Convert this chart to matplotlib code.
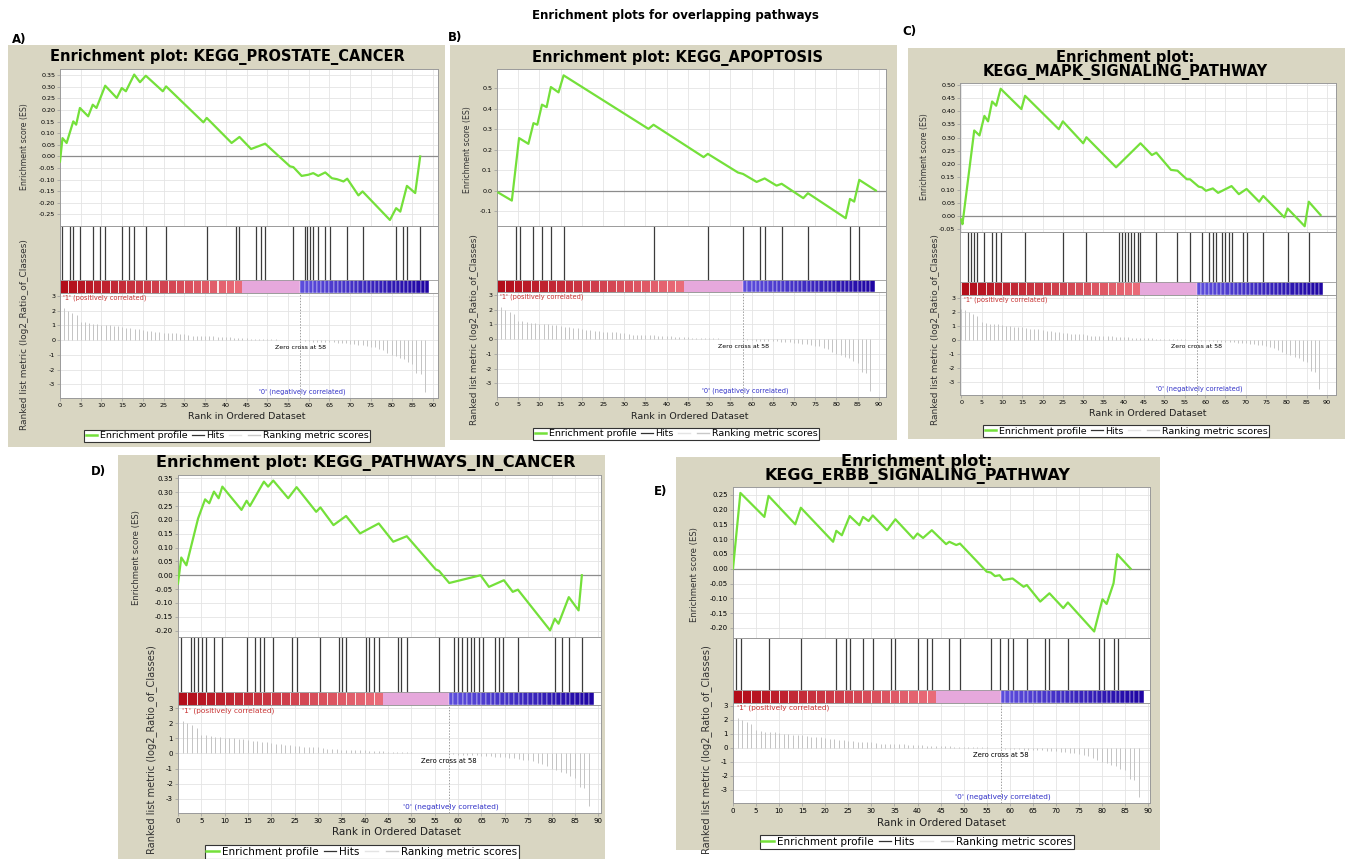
import matplotlib.pyplot as plt
from matplotlib.patches import Rectangle
from matplotlib.lines import Line2D

plt.rcParams['axes.unicode_minus'] = False

W, H = 1349, 859

# shared ranked list (89 genes), zero cross at 58
ranks = list(range(89))
metric = [2.2, 2.15, 2.0, 1.85, 1.7, 1.25, 1.2, 1.15, 1.1, 1.1,
          1.05, 1.0, 1.0, 0.95, 0.95, 0.9, 0.85, 0.8, 0.75, 0.75,
          0.7, 0.65, 0.6, 0.55, 0.55, 0.5, 0.5, 0.45, 0.45, 0.4,
          0.4, 0.35, 0.3, 0.3, 0.3, 0.25, 0.25, 0.25, 0.2, 0.2,
          0.2, 0.18, 0.16, 0.15, 0.14, 0.12, 0.1, 0.1, 0.09, 0.08,
          0.07, 0.06, 0.05, 0.04, 0.04, 0.03, 0.02, 0.01, 0.0, -0.05,
          -0.08, -0.1, -0.1, -0.12, -0.12, -0.14, -0.15, -0.17, -0.2, -0.22,
          -0.25, -0.28, -0.3, -0.35, -0.4, -0.45, -0.5, -0.6, -0.7, -0.85,
          -1.0, -1.1, -1.2, -1.3, -1.5, -1.6, -2.2, -2.3, -3.5]
zero_cross = 58

# A) KEGG_PROSTATE_CANCER
a_rank = [0, 0.6, 1.6, 3.2, 3.9, 4.8, 6.8, 7.9, 8.8, 10.9, 13.7, 14.9, 15.9, 17.9,
          19.3, 20.7, 24.8, 25.6, 34.6, 35.4, 41.4, 43.3, 46.1, 49.5, 55.5, 56.3,
          58.3, 59.9, 61.1, 62.3, 64.0, 65.6, 66.8, 68.4, 69.3, 72.0, 73.0, 79.6,
          81.1, 82.1, 83.7, 85.7, 86.9]
a_es = [-0.022, 0.079, 0.058, 0.151, 0.137, 0.209, 0.173, 0.223, 0.209, 0.305,
        0.252, 0.295, 0.281, 0.353, 0.320, 0.348, 0.281, 0.302, 0.147, 0.166,
        0.058, 0.084, 0.032, 0.055, -0.043, -0.046, -0.084, -0.079, -0.072,
        -0.084, -0.069, -0.094, -0.098, -0.108, -0.096, -0.168, -0.151, -0.274,
        -0.223, -0.238, -0.127, -0.158, 0.0]
a_hits = [0.6, 2.3, 3.2, 4.8, 7.9, 9.7, 10.9, 14.9, 16.7, 17.9, 20.7, 25.6, 35.4,
          42.4, 43.3, 47.3, 48.5, 49.5, 56.3, 59.1, 59.7, 60.3, 61.1, 62.2, 64.0,
          65.2, 69.3, 73.0, 81.1, 82.7, 83.7, 86.9]
a_ticks = [-0.25, -0.20, -0.15, -0.10, -0.05, 0.0, 0.05, 0.10, 0.15, 0.20, 0.25, 0.30, 0.35]

# B) KEGG_APOPTOSIS
b_rank = [0.3, 3.5, 5.2, 7.4, 8.6, 9.5, 10.6, 11.7, 12.7, 14.5, 15.7, 35.7, 36.9,
          48.7, 49.7, 56.8, 58.0, 61.2, 63.1, 65.9, 67.1, 72.2, 73.3, 82.2, 83.2,
          84.2, 85.4, 89.3]
b_es = [-0.010, -0.049, 0.256, 0.228, 0.329, 0.321, 0.419, 0.407, 0.505, 0.479,
        0.562, 0.301, 0.321, 0.163, 0.179, 0.088, 0.081, 0.042, 0.059, 0.024,
        0.033, -0.037, -0.013, -0.135, -0.041, -0.054, 0.052, 0.0]
b_hits = [4.4, 5.4, 8.6, 10.6, 12.7, 15.7, 36.9, 49.7, 58.0, 62.0, 63.1, 67.1,
          73.3, 83.2, 85.4]
b_ticks = [-0.1, 0.0, 0.1, 0.2, 0.3, 0.4, 0.5]

# C) KEGG_MAPK_SIGNALING_PATHWAY
c_rank = [0, 0.3, 3.2, 4.5, 5.7, 6.6, 7.6, 8.6, 9.7, 14.8, 15.7, 24.0, 25.0, 30.0,
          30.8, 38.1, 44.1, 46.9, 48.0, 51.6, 53.2, 55.5, 56.3, 58.4, 59.2, 60.2,
          61.9, 63.2, 66.5, 68.3, 70.2, 73.3, 74.3, 79.5, 80.3, 84.5, 85.5, 88.4]
c_es = [-0.014, -0.032, 0.327, 0.308, 0.383, 0.362, 0.438, 0.422, 0.487, 0.409,
        0.460, 0.332, 0.362, 0.278, 0.301, 0.186, 0.278, 0.233, 0.242, 0.176,
        0.173, 0.140, 0.140, 0.112, 0.109, 0.096, 0.105, 0.088, 0.114, 0.083,
        0.103, 0.054, 0.076, -0.006, 0.028, -0.040, 0.054, 0.003]
c_hits = [1.6, 2.4, 3.2, 3.8, 5.7, 7.6, 8.6, 9.7, 15.7, 25.0, 30.8, 38.9, 39.6,
          40.3, 41.0, 41.8, 42.6, 43.4, 44.1, 48.0, 53.2, 56.3, 59.2, 61.0, 61.9,
          62.7, 64.2, 65.0, 65.8, 66.5, 69.2, 70.2, 74.3, 80.3, 85.5]
c_ticks = [-0.05, 0.0, 0.05, 0.10, 0.15, 0.20, 0.25, 0.30, 0.35, 0.40, 0.45, 0.50]

# D) KEGG_PATHWAYS_IN_CANCER
d_rank = [0, 0.7, 1.8, 4.3, 5.8, 6.7, 7.7, 8.7, 9.5, 13.6, 14.7, 15.4, 18.4, 19.3,
          20.4, 23.6, 25.4, 29.6, 30.5, 33.3, 36.0, 39.0, 43.0, 46.1, 49.0, 55.2,
          55.9, 58.1, 64.8, 66.6, 69.8, 71.7, 72.8, 79.7, 80.7, 81.5, 83.7, 85.8, 86.5]
d_es = [-0.030, 0.064, 0.036, 0.205, 0.274, 0.260, 0.302, 0.278, 0.320, 0.236,
        0.269, 0.250, 0.338, 0.320, 0.342, 0.278, 0.318, 0.229, 0.245, 0.181,
        0.214, 0.151, 0.187, 0.121, 0.141, 0.021, 0.016, -0.028, 0.0, -0.042,
        -0.018, -0.060, -0.052, -0.199, -0.157, -0.175, -0.079, -0.127, 0.0]
d_hits = [0.7, 2.8, 3.5, 4.3, 5.1, 6.0, 7.7, 9.5, 14.7, 16.5, 17.6, 18.4, 20.4,
          24.5, 25.4, 30.5, 34.5, 35.1, 36.0, 40.2, 41.0, 41.9, 43.0, 47.1, 47.8,
          49.0, 55.9, 59.1, 60.0, 60.9, 61.8, 62.7, 63.5, 64.5, 65.3, 67.8, 68.7,
          69.7, 72.8, 80.7, 82.2, 83.7, 86.5]
d_ticks = [-0.20, -0.15, -0.10, -0.05, 0.0, 0.05, 0.10, 0.15, 0.20, 0.25, 0.30, 0.35]

# E) KEGG_ERBB_SIGNALING_PATHWAY
e_rank = [0, 1.6, 6.8, 7.7, 13.5, 14.7, 21.7, 22.4, 23.6, 25.3, 27.4, 28.2, 29.4,
          30.3, 33.4, 35.2, 39.1, 40.0, 41.2, 43.1, 46.2, 46.9, 48.4, 49.2, 55.0,
          55.9, 56.8, 57.8, 58.6, 60.6, 63.0, 63.7, 66.6, 68.6, 71.6, 72.6, 78.3,
          80.1, 81.0, 82.5, 83.3, 86.2]
e_es = [0.0, 0.256, 0.175, 0.246, 0.150, 0.206, 0.091, 0.128, 0.113, 0.178, 0.147,
        0.175, 0.161, 0.180, 0.130, 0.167, 0.102, 0.119, 0.104, 0.130, 0.083,
        0.091, 0.080, 0.085, -0.010, -0.013, -0.025, -0.022, -0.038, -0.033,
        -0.061, -0.055, -0.111, -0.083, -0.133, -0.114, -0.212, -0.103, -0.119,
        -0.049, 0.049, 0.0]
e_hits = [0.7, 1.8, 7.7, 14.7, 22.4, 24.5, 25.3, 28.2, 30.3, 34.2, 35.2, 40.0,
          42.0, 43.1, 46.9, 49.2, 55.9, 57.8, 59.7, 60.8, 63.7, 67.7, 68.6, 72.6,
          79.4, 80.5, 82.5, 83.5]
e_ticks = [-0.20, -0.15, -0.10, -0.05, 0.0, 0.05, 0.10, 0.15, 0.20, 0.25]

GREEN = '#74e03a'
BEIGE = '#d9d6c2'
GRID = '#e4e4e4'
SPINE = '#9a9a9a'


def px(x0, y0, x1, y1):
    return [x0 / W, 1 - y1 / H, (x1 - x0) / W, (y1 - y0) / H]


def ft(x, y):
    return x / W, 1 - y / H


def style(ax, s):
    for sp in ax.spines.values():
        sp.set_color(SPINE)
        sp.set_linewidth(0.7)
    ax.tick_params(labelsize=4.6 * s, length=2, width=0.5, color=SPINE, pad=1.5)


def panel(fig, g, title, es_r, es_v, hits, ylim, yticks, yfmt, xlim, tag):
    s = g['s']
    bx0, by0, bx1, by1 = g['box']
    fig.patches.append(Rectangle((bx0 / W, 1 - by1 / H), (bx1 - bx0) / W, (by1 - by0) / H,
                                 transform=fig.transFigure, fc=BEIGE, ec='none', zorder=-10))
    fig.text(*ft(*g['tag']), tag, ha='center', va='center', fontsize=8.5, fontweight='bold')
    fig.text(*ft(*g['title']), title, ha='center', va='center', fontsize=10.5 * s,
             fontweight='bold', linespacing=0.95)

    # enrichment score
    ax = fig.add_axes(px(*g['es']))
    ax.plot(es_r, es_v, color=GREEN, lw=1.6, zorder=3)
    ax.axhline(0, color='#8c8c8c', lw=0.9, zorder=2)
    ax.set_xlim(*xlim)
    ax.set_ylim(*ylim)
    ax.set_xticks(range(0, 95, 5))
    ax.set_xticklabels([])
    ax.set_yticks(yticks)
    ax.set_yticklabels([yfmt % v for v in yticks])
    ax.grid(True, color=GRID, lw=0.6)
    ax.set_axisbelow(True)
    style(ax, s)
    ax.tick_params(axis='x', length=0)
    fig.text(*ft(*g['es_lab']), 'Enrichment score (ES)', rotation=90, ha='center',
             va='center', fontsize=5.6 * s, color='#333333')

    # hits + colour bar
    axh = fig.add_axes(px(*g['hits']))
    cb = g['cb']
    axh.vlines(hits, cb, 1, color='#3c3c3c', lw=0.9)
    for i in ranks:
        if i < 44:
            if i % 2 == 0:
                t = i / 43
                c = (0.70 + 0.22 * t, 0.05 + 0.38 * t, 0.10 + 0.38 * t)
                axh.bar(i, cb, width=2, bottom=0, align='edge', color=c,
                        edgecolor='white', linewidth=0.5)
        elif i < zero_cross:
            axh.bar(i, cb, width=1, bottom=0, align='edge', color='#e6a8dc', linewidth=0)
        else:
            t = (i - zero_cross) / 30
            c = (0.36 - 0.24 * t, 0.30 - 0.28 * t, 0.86 - 0.22 * t)
            axh.bar(i, cb, width=1, bottom=0, align='edge', color=c,
                    edgecolor='white', linewidth=0.3)
    axh.axhline(cb, color=SPINE, lw=0.6)
    axh.set_xlim(*xlim)
    axh.set_ylim(0, 1)
    axh.set_xticks([])
    axh.set_yticks([])
    style(axh, s)

    # ranked list metric
    axm = fig.add_axes(px(*g['met']))
    axm.vlines(ranks, 0, metric, color='#c4c4c4', lw=0.7)
    axm.axvline(zero_cross, color='#a0a0a0', lw=0.7, ls=(0, (1.5, 1.5)))
    axm.set_xlim(*xlim)
    axm.set_ylim(-3.93, 3.2)
    axm.set_xticks(range(0, 95, 5))
    axm.set_yticks([-3, -2, -1, 0, 1, 2, 3])
    axm.grid(True, color=GRID, lw=0.6)
    axm.set_axisbelow(True)
    style(axm, s)
    axm.text(0.8, 2.85, "'1' (positively correlated)", color='#c83232',
             fontsize=4.8 * s, va='center', ha='left')
    axm.text(zero_cross, -0.5, 'Zero cross at 58', color='black', fontsize=4.5 * s,
             va='center', ha='center')
    axm.text(zero_cross + 0.5, -3.5, "'0' (negatively correlated)", color='#3232c8',
             fontsize=4.8 * s, va='center', ha='center')
    fig.text(*ft(*g['xlab']), 'Rank in Ordered Dataset', ha='center', va='center',
             fontsize=6.8 * s, color='#222222')
    fig.text(*ft(*g['met_lab']), 'Ranked list metric (log2_Ratio_of_Classes)',
             rotation=90, ha='center', va='center', fontsize=6.5 * s, color='#333333')

    handles = [Line2D([], [], color=GREEN, lw=1.8),
               Line2D([], [], color='#333333', lw=0.9),
               Line2D([], [], color='#e4e4e4', lw=1.0),
               Line2D([], [], color='#c8c8c8', lw=1.0)]
    leg = fig.legend(handles, ['Enrichment profile', 'Hits', '', 'Ranking metric scores'],
                     loc='center', bbox_to_anchor=ft(*g['leg']), ncol=4,
                     fontsize=6.8 * s, frameon=True, fancybox=False, framealpha=1,
                     edgecolor='#333333', borderpad=0.15, handlelength=1.2,
                     handletextpad=0.3, columnspacing=0.5)
    leg.get_frame().set_linewidth(0.8)


fig = plt.figure(figsize=(13.49, 8.59), dpi=100)
fig.patch.set_facecolor('white')
fig.text(*ft(675, 16), 'Enrichment plots for overlapping pathways', ha='center',
         va='center', fontsize=8.5, fontweight='bold')

gA = dict(box=(8, 45, 445, 447), es=(60, 69, 438, 226), hits=(60, 226, 438, 293),
          met=(60, 293, 438, 398), title=(227, 57), es_lab=(25, 147), met_lab=(25, 335),
          xlab=(247, 416), leg=(227, 436), tag=(19, 40), s=1.0, cb=0.19)
gB = dict(box=(450, 45, 897, 440), es=(497, 69, 886, 226), hits=(497, 226, 886, 292),
          met=(497, 292, 886, 397), title=(677, 58), es_lab=(467, 150), met_lab=(475, 330),
          xlab=(690, 416), leg=(676, 434), tag=(455, 38), s=1.0, cb=0.18)
gC = dict(box=(908, 48, 1345, 439), es=(960, 83, 1336, 232), hits=(960, 232, 1336, 295),
          met=(960, 295, 1336, 395), title=(1125, 65), es_lab=(925, 157), met_lab=(935, 330),
          xlab=(1148, 413), leg=(1126, 431), tag=(909, 32), s=1.0, cb=0.2)
gD = dict(box=(118, 455, 605, 859), es=(178, 475, 601, 637), hits=(178, 637, 601, 705),
          met=(178, 705, 601, 813), title=(366, 463), es_lab=(137, 558), met_lab=(152, 750),
          xlab=(396, 832), leg=(362, 852), tag=(98, 471), s=1.1, cb=0.19)
gE = dict(box=(676, 457, 1160, 850), es=(733, 487, 1150, 638), hits=(733, 638, 1150, 703),
          met=(733, 703, 1150, 803), title=(917, 469), es_lab=(695, 575), met_lab=(707, 750),
          xlab=(941, 823), leg=(917, 842), tag=(661, 491), s=1.1, cb=0.2)

panel(fig, gA, 'Enrichment plot: KEGG_PROSTATE_CANCER', a_rank, a_es, a_hits,
      (-0.30, 0.377), a_ticks, '%.2f', (0, 91.2), 'A)')
panel(fig, gB, 'Enrichment plot: KEGG_APOPTOSIS', b_rank, b_es, b_hits,
      (-0.173, 0.593), b_ticks, '%.1f', (0, 91.7), 'B)')
panel(fig, gC, 'Enrichment plot:\nKEGG_MAPK_SIGNALING_PATHWAY', c_rank, c_es, c_hits,
      (-0.062, 0.509), c_ticks, '%.2f', (-0.3, 92.2), 'C)')
panel(fig, gD, 'Enrichment plot: KEGG_PATHWAYS_IN_CANCER', d_rank, d_es, d_hits,
      (-0.223, 0.362), d_ticks, '%.2f', (0, 90.6), 'D)')
panel(fig, gE, 'Enrichment plot:\nKEGG_ERBB_SIGNALING_PATHWAY', e_rank, e_es, e_hits,
      (-0.234, 0.276), e_ticks, '%.2f', (0, 90.4), 'E)')

fig.savefig('out.png', dpi=100)
